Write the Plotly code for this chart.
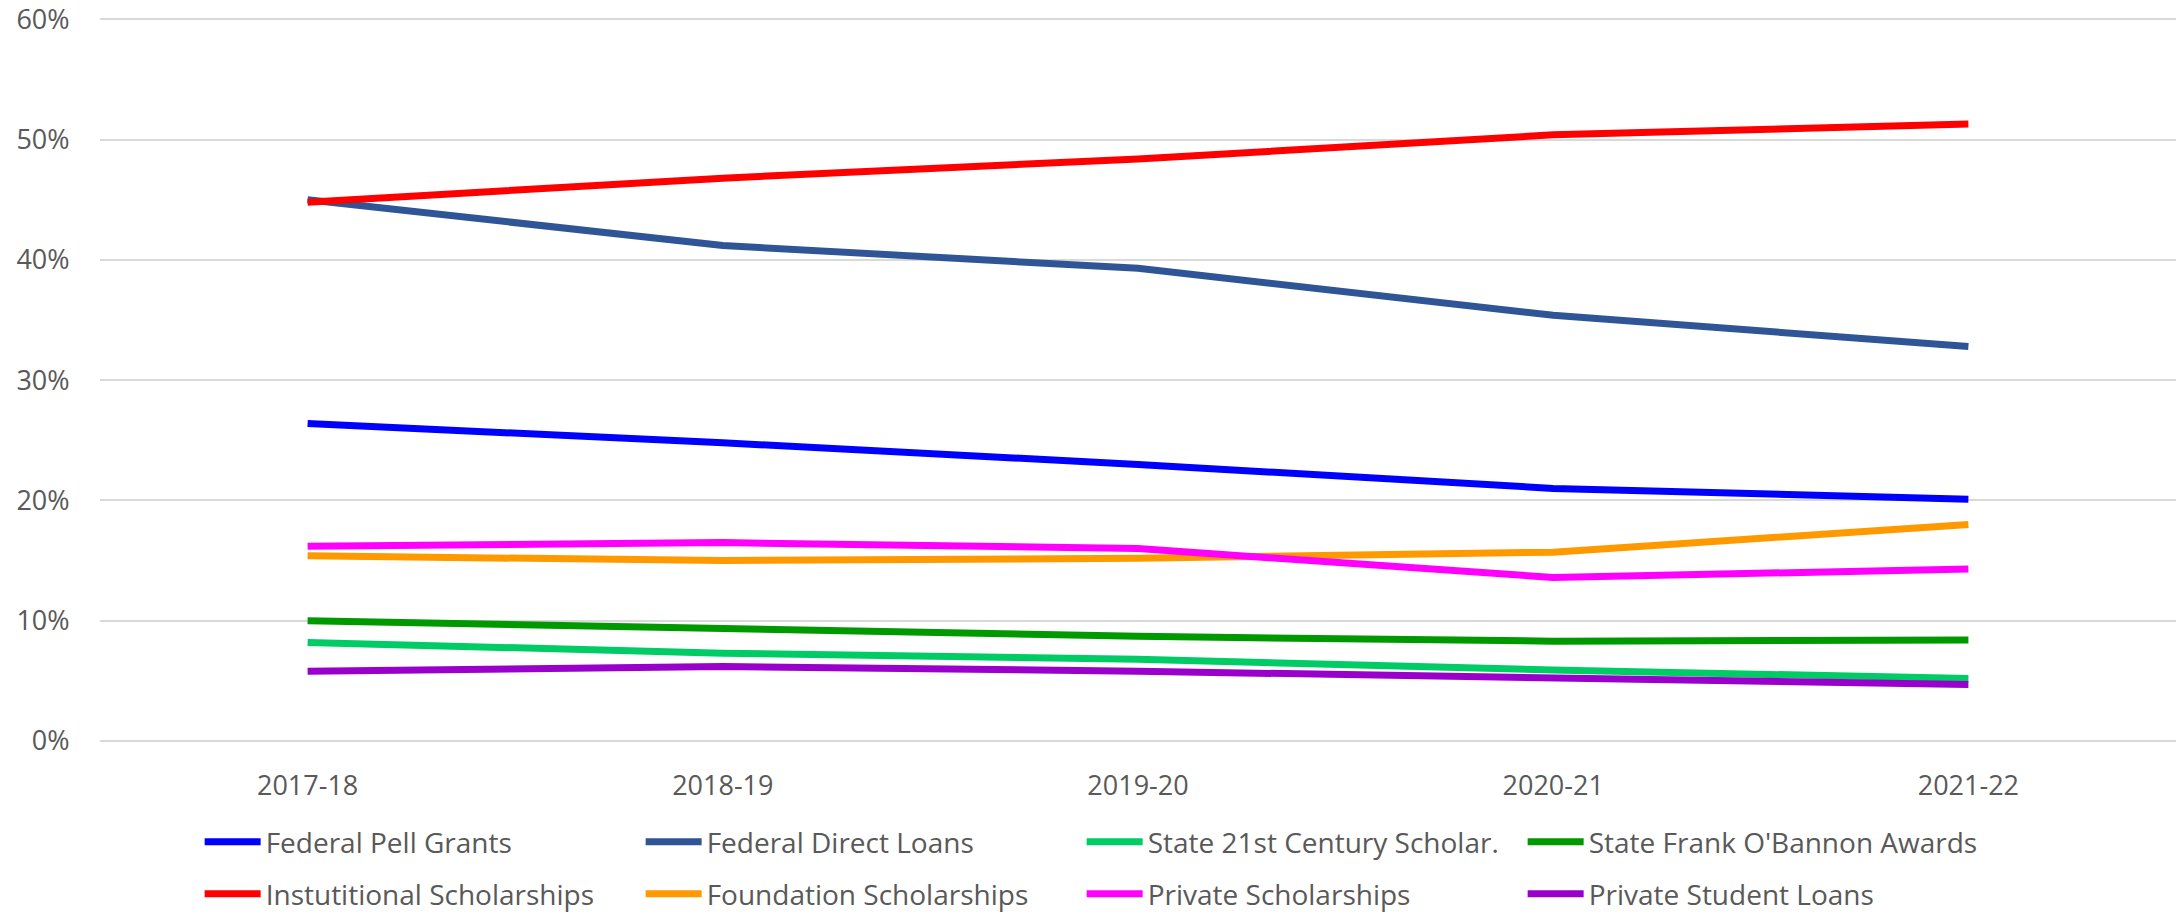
import plotly.graph_objects as go

years = ["2017-18", "2018-19", "2019-20", "2020-21", "2021-22"]
y_ticks = [0, 10, 20, 30, 40, 50, 60]
y_tick_labels = ["0%", "10%", "20%", "30%", "40%", "50%", "60%"]

federal_pell = [26.4, 24.8, 23.0, 21.0, 20.1]
federal_direct = [45.0, 41.2, 39.3, 35.4, 32.8]
state_21st = [8.2, 7.3, 6.8, 5.9, 5.2]
state_obannon = [10.0, 9.4, 8.7, 8.3, 8.4]
institutional = [44.8, 46.8, 48.4, 50.4, 51.3]
foundation = [15.4, 15.0, 15.2, 15.7, 18.0]
private_sch = [16.2, 16.5, 16.0, 13.6, 14.3]
private_loans = [5.8, 6.2, 5.8, 5.2, 4.7]

series = [
    ("Federal Pell Grants", federal_pell, "#0000FF", "legend"),
    ("Federal Direct Loans", federal_direct, "#2F5597", "legend"),
    ("State 21st Century Scholar.", state_21st, "#00CC66", "legend"),
    ("State Frank O'Bannon Awards", state_obannon, "#009900", "legend"),
    ("Instutitional Scholarships", institutional, "#FF0000", "legend2"),
    ("Foundation Scholarships", foundation, "#FF9900", "legend2"),
    ("Private Scholarships", private_sch, "#FF00FF", "legend2"),
    ("Private Student Loans", private_loans, "#9900CC", "legend2"),
]

FONT = "Open Sans"
GRAY = "#595959"

fig = go.Figure()
for i, (name, vals, color, lg) in enumerate(series):
    kw = {}
    if i in (3, 7):
        kw["legendwidth"] = 420
    fig.add_trace(go.Scatter(
        x=years, y=vals, name=name, mode="lines",
        line=dict(color=color, width=7),
        legend=lg, **kw,
    ))

legend_common = dict(
    orientation="h", entrywidth=370, entrywidthmode="pixels",
    font=dict(family=FONT, size=28, color=GRAY),
    xanchor="left", yanchor="middle", bgcolor="rgba(0,0,0,0)",
    itemwidth=56,
)

fig.update_layout(
    width=2178, height=914,
    margin=dict(l=100, r=2, t=17, b=173, autoexpand=False),
    paper_bgcolor="white", plot_bgcolor="white",
    font=dict(family=FONT, color=GRAY),
    showlegend=True,
    legend=dict(x=0.048, y=-0.1395, **legend_common),
    legend2=dict(x=0.048, y=-0.2113, **legend_common),
    xaxis=dict(
        type="category", range=[-0.5, 4.5],
        showgrid=False, zeroline=False, showline=False,
        tickfont=dict(family=FONT, size=27, color=GRAY),
        ticks="outside", ticklen=21, tickcolor="rgba(0,0,0,0)",
    ),
    yaxis=dict(
        range=[0, 60.2], tickmode="array", tickvals=y_ticks, ticktext=y_tick_labels,
        showgrid=True, gridcolor="#D9D9D9", gridwidth=1.5,
        zeroline=True, zerolinecolor="#D9D9D9", zerolinewidth=1.5,
        showline=False, ticklabeloverflow="allow",
        tickfont=dict(family=FONT, size=27, color=GRAY),
        ticks="outside", ticklen=24, tickcolor="rgba(0,0,0,0)",
    ),
)

fig.write_html("out.html", config={"displayModeBar": False},
               post_script="document.body.style.margin='0';")
